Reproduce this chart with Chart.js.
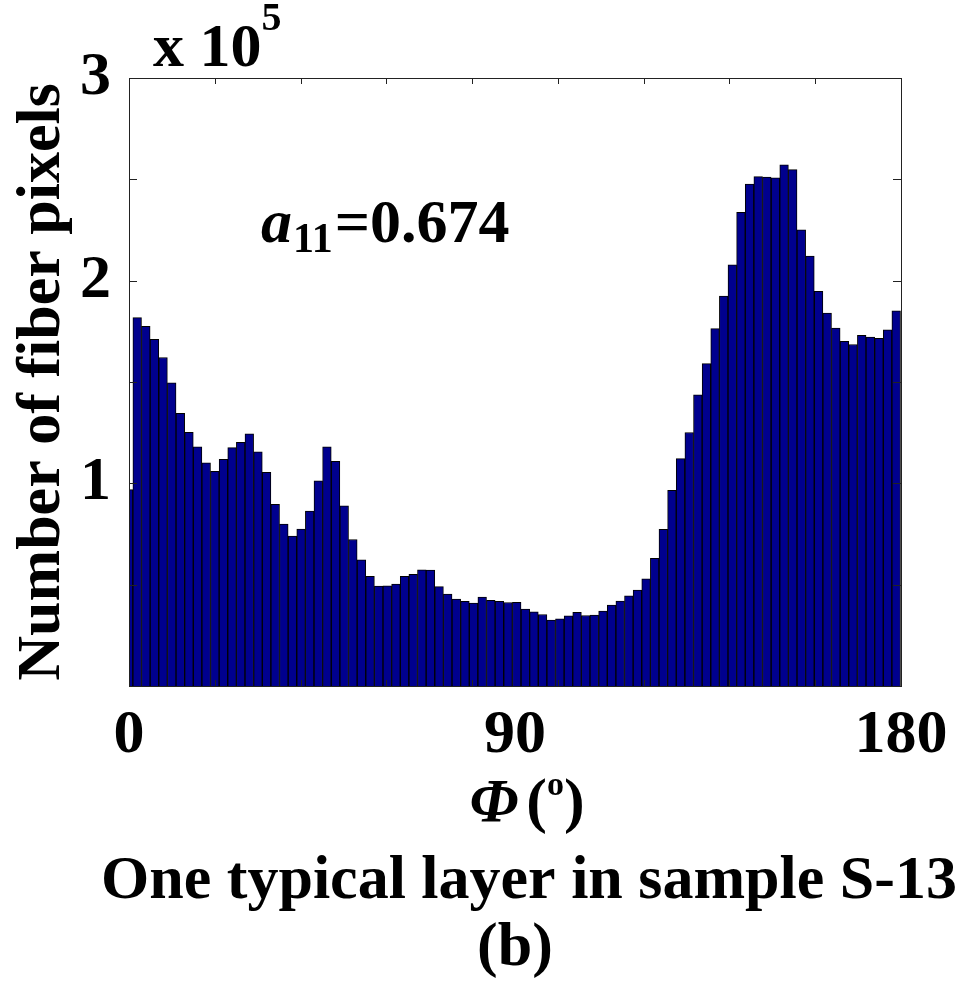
<!DOCTYPE html>
<html>
<head>
<meta charset="utf-8">
<script src="https://cdn.jsdelivr.net/npm/chart.js@4.4.1/dist/chart.umd.min.js"></script>
<style>
  html, body { margin: 0; padding: 0; background: #ffffff; }
  #wrap { width: 963px; height: 996px; }
</style>
</head>
<body>
<div id="wrap"><canvas id="hist" width="963" height="996"></canvas></div>
<script>
// Histogram of fiber orientation angle Φ for one layer of sample S-13.
// Bin centres (degrees), 90 bins of ~2.011°.
const binCenters = [
  -0.1, 1.91, 3.92, 5.93, 7.94, 9.96, 11.97, 13.98, 15.99, 18.00,
  20.01, 22.02, 24.03, 26.04, 28.05, 30.07, 32.08, 34.09, 36.10, 38.11,
  40.12, 42.13, 44.14, 46.15, 48.16, 50.18, 52.19, 54.20, 56.21, 58.22,
  60.23, 62.24, 64.25, 66.26, 68.27, 70.29, 72.30, 74.31, 76.32, 78.33,
  80.34, 82.35, 84.36, 86.37, 88.38, 90.40, 92.41, 94.42, 96.43, 98.44,
  100.45, 102.46, 104.47, 106.48, 108.49, 110.51, 112.52, 114.53, 116.54, 118.55,
  120.56, 122.57, 124.58, 126.59, 128.60, 130.62, 132.63, 134.64, 136.65, 138.66,
  140.67, 142.68, 144.69, 146.70, 148.71, 150.73, 152.74, 154.75, 156.76, 158.77,
  160.78, 162.79, 164.80, 166.81, 168.82, 170.84, 172.85, 174.86, 176.87, 178.88
];

// Number of fiber pixels in each bin.
const fiberCounts = [
  96900, 181800, 177500, 171000, 162100, 149600, 134600, 125200, 118000, 110100,
  105900, 111900, 117600, 120200, 124400, 115500, 105400, 89700, 79900, 74000,
  77400, 86300, 101200, 118000, 110800, 88900, 72300, 62200, 54100, 49300,
  49400, 50300, 54100, 55100, 57300, 57200, 49000, 45400, 42900, 41800,
  40900, 43900, 42300, 41800, 41200, 41300, 38000, 36600, 35300, 32500,
  33100, 34600, 36300, 34800, 35000, 37000, 39900, 41900, 44500, 47300,
  52900, 63000, 77300, 96600, 112200, 125100, 143700, 159100, 176300, 192400,
  207800, 233700, 247700, 251300, 251100, 250800, 257100, 254800, 225100, 212100,
  194800, 184000, 176600, 170100, 168500, 173000, 172200, 171500, 175700, 185100
];

// Axis ticks
const xTickValues = [0, 20, 40, 60, 80, 100, 120, 140, 160, 180];
const xLabelValues = [0, 90, 180];
const yTickValues = [0, 50000, 100000, 150000, 200000, 250000, 300000];
const yLabelValues = [100000, 200000, 300000];
const yScaleFactor = 100000;

const SERIF = '"Liberation Serif", "Times New Roman", Times, serif';
const BAR_FILL = '#00008e';
const INK = '#000000';
const FONT_PX = 62;

// Box frame with inward tick marks on all four sides.
const frameTicks = {
  id: 'frameTicks',
  afterDatasetsDraw(chart) {
    const { ctx, chartArea: a, scales: { x, y } } = chart;
    ctx.save();
    ctx.strokeStyle = '#222222';
    ctx.lineWidth = 1;
    ctx.beginPath();
    xTickValues.forEach(v => {
      const px = Math.round(x.getPixelForValue(v)) + 0.5;
      ctx.moveTo(px, a.top); ctx.lineTo(px, a.top + 6);
      ctx.moveTo(px, a.bottom); ctx.lineTo(px, a.bottom - 6);
    });
    yTickValues.forEach(v => {
      const py = Math.round(y.getPixelForValue(v)) + 0.5;
      ctx.moveTo(a.left, py); ctx.lineTo(a.left + 8, py);
      ctx.moveTo(a.right, py); ctx.lineTo(a.right - 8, py);
    });
    ctx.stroke();
    ctx.strokeRect(Math.round(a.left) + 0.5, Math.round(a.top) + 0.5,
                   Math.round(a.right - a.left), Math.round(a.bottom - a.top));
    ctx.restore();
  }
};

// Helper that draws a run of differently styled text pieces.
function drawRuns(ctx, runs, startX, baseY, align) {
  ctx.save();
  ctx.textBaseline = 'alphabetic';
  ctx.textAlign = 'left';
  let total = 0;
  runs.forEach(r => { ctx.font = r.font; total += ctx.measureText(r.text).width + (r.gap || 0); });
  let cx = align === 'center' ? startX - total / 2 : startX;
  runs.forEach(r => {
    ctx.font = r.font;
    ctx.fillStyle = INK;
    ctx.fillText(r.text, cx, baseY + (r.dy || 0));
    cx += ctx.measureText(r.text).width + (r.gap || 0);
  });
  ctx.restore();
}

// Exponent, annotation, x-axis title and caption.
const figureText = {
  id: 'figureText',
  afterDraw(chart) {
    const { ctx, chartArea: a } = chart;
    const mid = (a.left + a.right) / 2;
    // exponent of the count axis
    drawRuns(ctx, [
      { text: 'x 10', font: `bold ${FONT_PX}px ${SERIF}` },
      { text: '5', font: `bold 40px ${SERIF}`, dy: -36 }
    ], 153, 66, 'left');
    // anisotropy coefficient
    drawRuns(ctx, [
      { text: 'a', font: `italic bold ${FONT_PX}px ${SERIF}`, gap: 1 },
      { text: '11', font: `bold 42px ${SERIF}`, dy: 10, gap: 2 },
      { text: '=0.674', font: `bold ${FONT_PX}px ${SERIF}` }
    ], 261, 242, 'left');
    // x-axis title
    drawRuns(ctx, [
      { text: 'Φ', font: `italic bold ${FONT_PX}px ${SERIF}`, gap: 8 },
      { text: '(', font: `bold ${FONT_PX}px ${SERIF}` },
      { text: 'o', font: `bold 34px ${SERIF}`, dy: -26 },
      { text: ')', font: `bold ${FONT_PX}px ${SERIF}` }
    ], 527, 821, 'center');
    // caption
    drawRuns(ctx, [{ text: 'One typical layer in sample S-13', font: `bold ${FONT_PX}px ${SERIF}` }],
             529, 898, 'center');
    drawRuns(ctx, [{ text: '(b)', font: `bold ${FONT_PX}px ${SERIF}` }], mid, 965, 'center');
  }
};

Chart.defaults.font.family = SERIF;
Chart.defaults.color = INK;

new Chart(document.getElementById('hist'), {
  type: 'bar',
  data: {
    datasets: [{
      label: 'Number of fiber pixels',
      data: binCenters.map((c, i) => ({ x: c, y: fiberCounts[i] })),
      backgroundColor: BAR_FILL,
      borderColor: '#000000',
      borderWidth: 1,
      categoryPercentage: 1.0,
      barPercentage: 1.0,
      grouped: false,
      clip: 0
    }]
  },
  options: {
    responsive: false,
    animation: false,
    events: [],
    layout: { padding: { left: 0, top: 78, right: 62, bottom: 0 } },
    plugins: { legend: { display: false }, tooltip: { enabled: false }, title: { display: false } },
    scales: {
      x: {
        type: 'linear',
        min: 0,
        max: 180,
        offset: false,
        grid: { display: false, drawTicks: false },
        border: { display: false },
        afterBuildTicks(scale) {
          const vals = [...new Set([...xTickValues, ...xLabelValues])].sort((p, q) => p - q);
          scale.ticks = vals.map(v => ({ value: v }));
        },
        ticks: {
          autoSkip: false,
          maxRotation: 0,
          padding: 13,
          font: { size: FONT_PX, weight: 'bold' },
          color: INK,
          callback: v => (xLabelValues.includes(v) ? String(v) : '')
        },
        afterFit(scale) { scale.height = 310; }
      },
      y: {
        min: 0,
        max: 300000,
        grid: { display: false, drawTicks: false },
        border: { display: false },
        afterBuildTicks(scale) { scale.ticks = yTickValues.map(v => ({ value: v })); },
        ticks: {
          padding: 18,
          font: { size: FONT_PX, weight: 'bold' },
          color: INK,
          callback: v => (yLabelValues.includes(v) ? String(v / yScaleFactor) : '')
        },
        title: {
          display: true,
          text: 'Number of fiber pixels',
          font: { size: FONT_PX, weight: 'bold' },
          color: INK,
          padding: { top: 6, bottom: 0 }
        },
        afterFit(scale) { scale.width = 129; }
      }
    }
  },
  plugins: [frameTicks, figureText]
});
</script>
</body>
</html>
